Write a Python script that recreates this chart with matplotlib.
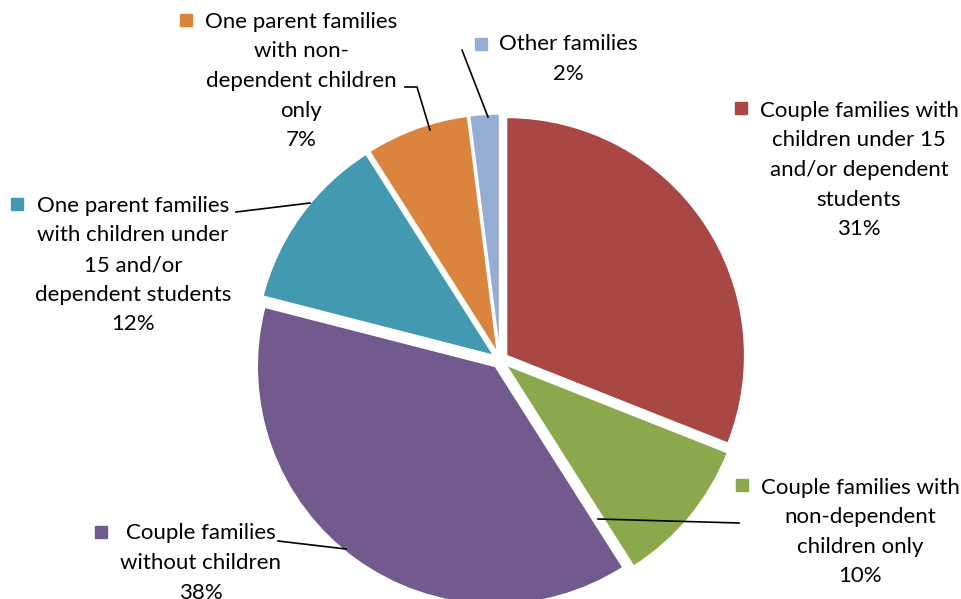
import matplotlib.pyplot as plt

# Datos del grafico
labels = [
    "Couple families with\nchildren under 15\nand/or dependent\nstudents\n31%",
    "Couple families with\nnon-dependent\nchildren only\n10%",
    "Couple families\nwithout children\n38%",
    "One parent families\nwith children under\n15 and/or\ndependent students\n12%",
    "One parent families\nwith non-\ndependent children\nonly\n7%",
    "Other families\n2%",
]
values = [31, 10, 38, 12, 7, 2]
colors = ["#A94744", "#8BA84C", "#725A8E", "#4299B0", "#DB843D", "#95ACD3"]

W, H = 962, 599

# Posicion de las etiquetas en pixeles (centro del texto, cuadrado, linea guia)
text_pos = [(859, 170), (860, 532), (201, 563), (133, 265), (301, 81), (568, 59)]
square_pos = [(741, 108), (742, 485), (101, 532), (17, 204), (186, 20), (481, 44)]
leaders = [
    None,
    [(598, 519), (739, 523)],
    [(278, 541), (346, 549)],
    [(236, 212), (310, 203)],
    [(405, 87), (417, 87), (430, 130)],
    [(462, 50), (488, 117)],
]

def fy(y):
    return H - y

plt.rcParams['font.family'] = ['Lato', 'DejaVu Sans']

fig = plt.figure(figsize=(W / 100, H / 100), dpi=100)
ax = fig.add_axes([0, 0, 1, 1])

# explode va en unidades de datos (pixeles aqui)
ax.pie(values, colors=colors, startangle=90, counterclock=False,
       radius=238, center=(500, fy(360)), explode=[8] * len(values),
       wedgeprops=dict(edgecolor="white", linewidth=1), frame=True)

for i, lab in enumerate(labels):
    tx, ty = text_pos[i]
    ax.text(tx, fy(ty), lab, ha="center", va="center", fontsize=16,
            linespacing=1.6, color="black")
    sx, sy = square_pos[i]
    ax.plot(sx, fy(sy), marker="s", markersize=9, color=colors[i], linestyle="none")
    if leaders[i] is not None:
        xs = [p[0] for p in leaders[i]]
        ys = [fy(p[1]) for p in leaders[i]]
        ax.plot(xs, ys, color="black", linewidth=1.2)

ax.set_xlim(0, W)
ax.set_ylim(0, H)
ax.set_aspect("equal")
ax.axis("off")

fig.savefig("out.png", dpi=100)
